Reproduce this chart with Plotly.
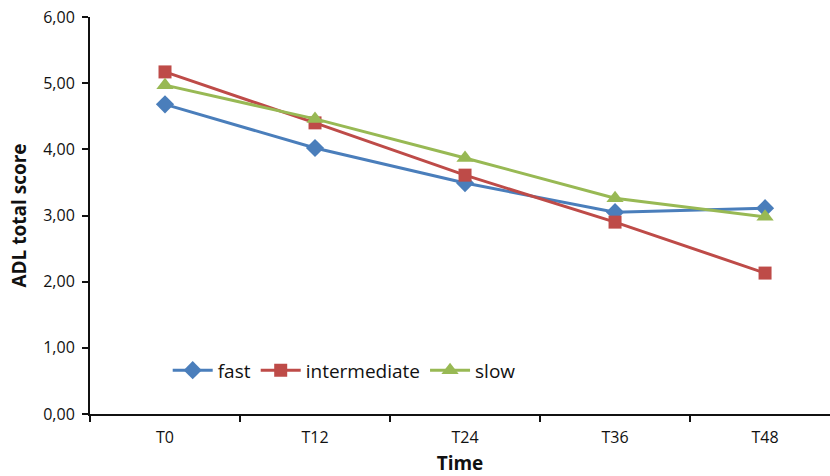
import plotly.graph_objects as go

categories = ["T0", "T12", "T24", "T36", "T48"]
fast = [4.68, 4.02, 3.49, 3.05, 3.11]
intermediate = [5.17, 4.40, 3.61, 2.90, 2.13]
slow = [4.97, 4.46, 3.87, 3.26, 2.98]

series = [
    ("fast", fast, "#4A7EBB", "diamond", 14),
    ("intermediate", intermediate, "#BE4B48", "square", 13),
    ("slow", slow, "#98B954", "triangle-up", 15),
]

fig = go.Figure()
for name, vals, color, sym, size in series:
    fig.add_trace(go.Scatter(
        x=categories, y=vals, name=name, mode="lines+markers",
        line=dict(color=color, width=3),
        marker=dict(symbol=sym, size=size, color=color),
    ))

font_family = "Open Sans, Liberation Sans, sans-serif"
fig.update_layout(
    width=830, height=476,
    margin=dict(l=90, r=0, t=17, b=62, autoexpand=False),
    paper_bgcolor="white", plot_bgcolor="white",
    separators=",.",
    font=dict(family=font_family, color="#111111", size=16),
    showlegend=True,
    legend=dict(orientation="h", x=0.105, y=0.11, xanchor="left", yanchor="middle",
                font=dict(size=19, color="#111111"), bgcolor="rgba(0,0,0,0)",
                itemwidth=40, tracegroupgap=0),
    xaxis=dict(
        type="category", range=[-0.5, 4.433], tickson="boundaries",
        ticks="outside", ticklen=6, tickwidth=2, tickcolor="#111111",
        showline=True, linecolor="#111111", linewidth=2,
        showgrid=False, zeroline=False, automargin=False,
        tickfont=dict(size=16), ticklabelstandoff=8,
        title=dict(text="<b>Time</b>", font=dict(size=19), standoff=24),
    ),
    yaxis=dict(
        range=[0, 6], dtick=1, tick0=0, tickformat=".2f",
        ticks="outside", ticklen=6, tickwidth=2, tickcolor="#111111",
        showline=True, linecolor="#111111", linewidth=2,
        showgrid=False, zeroline=False, automargin=False,
        tickfont=dict(size=16), ticklabelstandoff=4,
        title=dict(text="<b>ADL total score</b>", font=dict(size=19), standoff=12),
    ),
)

fig.write_html("out.html")
